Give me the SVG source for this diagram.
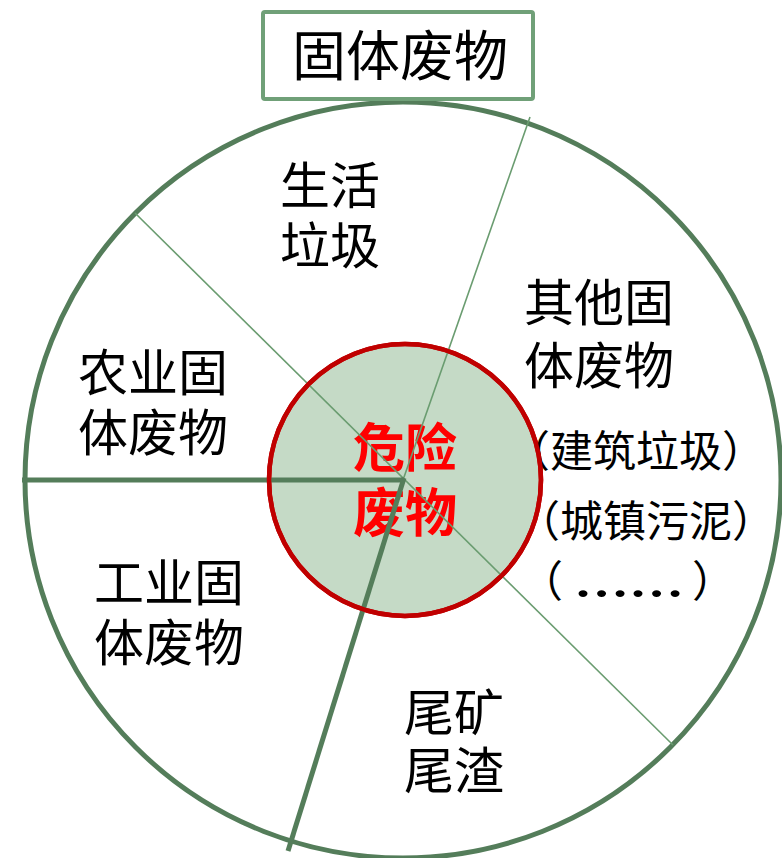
<svg xmlns="http://www.w3.org/2000/svg" width="782" height="858" viewBox="0 0 782 858">
<style>
.t{font-family:"Liberation Serif","Noto Sans CJK SC",serif;fill:#000;text-anchor:middle}
.L{font-size:50px}
.s{font-size:43px;text-anchor:start}
.thin{stroke:#6a9c70;stroke-width:1.6;fill:none}
.thick{stroke:#547d5a;stroke-width:5;fill:none}
</style>
<rect width="782" height="858" fill="#fff"/>
<g id="outer">
<circle cx="403" cy="480" r="378" fill="#fff" stroke="#547d5a" stroke-width="5"/>
</g>
<g id="hazard">
<circle cx="405" cy="480" r="136" fill="#c5dac6" stroke="#c00000" stroke-width="4.5"/>
<text class="t" x="405" y="467" font-size="52" font-weight="bold" style="fill:#ff0000">危险</text>
<text class="t" x="405" y="532" font-size="52" font-weight="bold" style="fill:#ff0000">废物</text>
</g>
<g id="connectors">
<line class="thin" x1="530" y1="117" x2="403" y2="480"/>
<line class="thin" x1="135" y1="213" x2="673" y2="745"/>
<line class="thick" x1="22" y1="480" x2="404" y2="480"/>
<line class="thick" x1="404" y1="478" x2="288" y2="851"/>
</g>
<g id="title">
<rect x="263" y="12" width="270" height="87" rx="2" fill="#fff" stroke="#70a078" stroke-width="4"/>
<text class="t" x="400" y="76" font-size="54">固体废物</text>
</g>
<g id="living"><text class="t L" x="330" y="204">生活</text><text class="t L" x="330" y="264">垃圾</text></g>
<g id="other">
<text class="t L" x="599" y="321">其他固</text><text class="t L" x="599" y="384">体废物</text>
</g>
<g id="examples">
<text class="t s" x="507" y="467">（建筑垃圾）</text>
<text class="t s" x="517" y="537">（城镇污泥）</text>
<text class="t s" x="520" y="597">（</text>
<text class="t s" x="574" y="597" font-size="56" font-weight="bold" textLength="110" lengthAdjust="spacingAndGlyphs">……</text>
<text class="t s" x="692" y="597">）</text>
</g>
<g id="agri"><text class="t L" x="153" y="391">农业固</text><text class="t L" x="153" y="451">体废物</text></g>
<g id="industry"><text class="t L" x="169" y="601">工业固</text><text class="t L" x="169" y="661">体废物</text></g>
<g id="tailings"><text class="t L" x="454" y="731">尾矿</text><text class="t L" x="454" y="789">尾渣</text></g>
<g id="hazard-rim">
<circle cx="405" cy="480" r="136" fill="none" stroke="#c00000" stroke-width="4.5"/>
</g>
</svg>
